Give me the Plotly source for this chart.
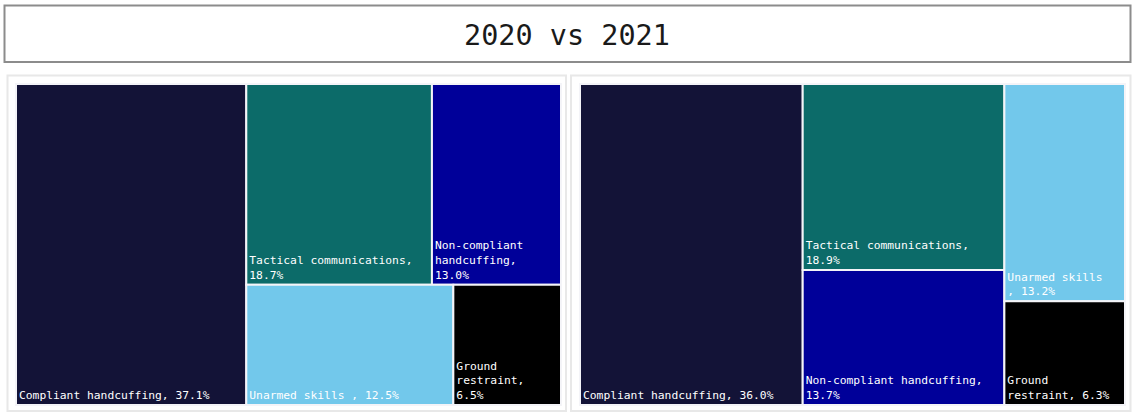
import plotly.graph_objects as go

# ---- data ----
categories = ["Compliant handcuffing", "Tactical communications", "Non-compliant handcuffing",
              "Unarmed skills ", "Ground restraint"]
values_2020 = [37.1, 18.7, 13.0, 12.5, 6.5]
values_2021 = [36.0, 18.9, 13.7, 13.2, 6.3]
title_text = "2020 vs 2021"

# ---- style ----
colors = {"Compliant handcuffing": "#131337", "Tactical communications": "#0c6b69",
          "Non-compliant handcuffing": "#000099", "Unarmed skills ": "#72c8eb",
          "Ground restraint": "#000000"}
wrap_2020 = [40, 24, 14, 30, 10]
wrap_2021 = [40, 28, 28, 15, 15]
W, H = 1133, 413
FONT = "DejaVu Sans Mono"


def wrap(s, width):
    words = s.split(" ")
    lines, cur = [], ""
    for w in words:
        cand = w if cur == "" else cur + " " + w
        if len(cand) <= width or cur == "":
            cur = cand
        else:
            lines.append(cur)
            cur = w
    lines.append(cur)
    return "<br>".join(lines)


def make_trace(values, widths, x0, x1):
    texts = [wrap(f"{c}, {v:.1f}%", wd) for c, v, wd in zip(categories, values, widths)]
    return go.Treemap(
        labels=categories,
        parents=[""] * len(categories),
        values=values,
        text=texts,
        texttemplate="%{text}",
        textposition="bottom left",
        textfont=dict(family=FONT, size=11.3, color="white"),
        marker=dict(colors=[colors[c] for c in categories],
                    line=dict(color="#f4f4f8", width=2),
                    pad=dict(t=0, l=0, r=0, b=0)),
        sort=True,
        tiling=dict(packing="squarify", pad=0),
        pathbar=dict(visible=False),
        hoverinfo="label+value",
        domain=dict(x=[x0 / W, x1 / W], y=[1 - 405 / H, 1 - 84 / H]),
    )


fig = go.Figure()
fig.add_trace(make_trace(values_2020, wrap_2020, 16, 561))
fig.add_trace(make_trace(values_2021, wrap_2021, 580, 1125))


def px_rect(x0, y0, x1, y1, color, width):
    return dict(type="rect", xref="paper", yref="paper",
                x0=x0 / W, x1=x1 / W, y0=1 - y1 / H, y1=1 - y0 / H,
                line=dict(color=color, width=width), fillcolor="rgba(0,0,0,0)", layer="below")


fig.update_layout(
    width=W, height=H,
    margin=dict(l=0, r=0, t=0, b=0),
    paper_bgcolor="white",
    showlegend=False,
    uniformtext=dict(minsize=11.3, mode="show"),
    shapes=[
        px_rect(4.5, 5.5, 1130.5, 62, "#8c8c8c", 2),
        px_rect(7.5, 75.5, 566, 411, "#e8e8e8", 2),
        px_rect(571, 75.5, 1130.5, 411, "#e8e8e8", 2),
    ],
    annotations=[dict(text=title_text, xref="paper", yref="paper", x=0.5, y=1 - 35 / H,
                      xanchor="center", yanchor="middle", showarrow=False,
                      font=dict(family=FONT, size=28.5, color="#1a1a1a"))],
)

fig.write_html("out.html")
